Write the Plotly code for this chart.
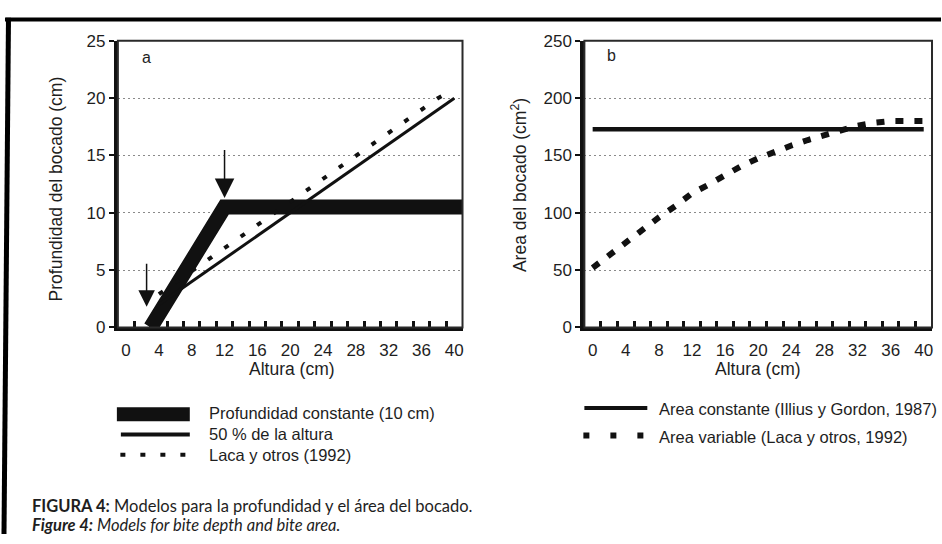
import plotly.graph_objects as go

W, H = 942, 544

# ---- Panel a: bite depth (cm) against sward height (cm) ----
height_const = [3, 12, 41]
depth_const = [0, 10.5, 10.5]

height_half = [4, 40]
depth_half = [2, 20]

height_laca = [4, 6, 8, 10, 12, 14, 16, 18, 20, 22, 24, 26, 28, 30, 32, 34, 36, 38, 40]
depth_laca = [2.9, 3.9, 4.9, 5.9, 6.9, 7.9, 8.9, 9.9, 10.9, 12.0, 13.0, 13.9,
              14.9, 16.0, 17.0, 18.0, 19.0, 20.0, 20.8]

# ---- Panel b: bite area (cm2) against sward height (cm) ----
height_area = [0, 40]
area_const = [173, 173]

height_area_var = [0, 2, 4, 6, 8, 10, 12, 14, 16, 18, 20, 22, 24, 26, 28, 30, 32, 34, 36, 38, 40]
area_var = [52, 63, 74, 86, 96, 106, 117, 124.5, 133, 141, 147.5, 153.5, 158.7,
            163.5, 167.5, 171, 176, 178.5, 180, 180, 180]

x_ticks = [0, 4, 8, 12, 16, 20, 24, 28, 32, 36, 40]
x_bounds = [1, 3, 5, 7, 9, 11, 13, 15, 17, 19, 21, 23, 25, 27, 29, 31, 33, 35, 37, 39]
depth_ticks = [0, 5, 10, 15, 20, 25]
area_ticks = [0, 50, 100, 150, 200, 250]

INK = "#111111"
TXT = "#1e1e1e"
FONT = "Liberation Sans, Arial, sans-serif"


def fx(p):
    return p / W


def fy(p):
    return 1 - p / H


fig = go.Figure()

fig.add_trace(go.Scatter(x=height_const, y=depth_const, mode="lines",
                         line=dict(color=INK, width=15), xaxis="x", yaxis="y",
                         name="Profundidad constante (10 cm)"))
fig.add_trace(go.Scatter(x=height_half, y=depth_half, mode="lines",
                         line=dict(color=INK, width=3), xaxis="x", yaxis="y",
                         name="50 % de la altura"))
# the dotted/dashed series sit on the overlaid x axes that carry the category marks
fig.add_trace(go.Scatter(x=height_laca, y=depth_laca, mode="lines",
                         line=dict(color=INK, width=4, dash="5px,15px"), xaxis="x3", yaxis="y",
                         name="Laca y otros (1992)"))
fig.add_trace(go.Scatter(x=height_area, y=area_const, mode="lines",
                         line=dict(color=INK, width=4.5), xaxis="x2", yaxis="y2",
                         name="Area constante (Illius y Gordon, 1987)"))
fig.add_trace(go.Scatter(x=height_area_var, y=area_var, mode="lines",
                         line=dict(color=INK, width=6, dash="8px,11px"), xaxis="x4", yaxis="y2",
                         name="Area variable (Laca y otros, 1992)"))

# labelled x axes (no tick marks) ...
xcommon = dict(range=[-1, 41], tickvals=x_ticks, ticks="", showline=True, linewidth=4,
               linecolor=INK, zeroline=False, showgrid=False, ticklabelstandoff=4,
               tickfont=dict(family=FONT, size=17, color=TXT))
# ... plus overlaid axes carrying the small inside marks between categories
xmarks = dict(range=[-1, 41], tickvals=x_bounds, ticks="inside", ticklen=6, tickwidth=3,
              tickcolor=INK, showticklabels=False, showline=False, showgrid=False,
              zeroline=False, side="bottom")
ycommon = dict(ticks="outside", ticklen=5, tickwidth=2, tickcolor=INK, showline=True,
               linewidth=4, linecolor=INK, zeroline=False, showgrid=True,
               gridcolor="#8a8a8a", griddash="2px,3px", gridwidth=1,
               tickfont=dict(family=FONT, size=17, color=TXT))

fig.update_layout(
    width=W, height=H, autosize=False,
    margin=dict(l=0, r=0, t=0, b=0),
    paper_bgcolor="white", plot_bgcolor="white",
    showlegend=False,
    xaxis=dict(domain=[fx(118), fx(463)], anchor="y", **xcommon),
    yaxis=dict(domain=[fy(330), fy(33)], anchor="x", range=[0, 25], tickvals=depth_ticks, **ycommon),
    xaxis2=dict(domain=[fx(585), fx(933)], anchor="y2", **xcommon),
    yaxis2=dict(domain=[fy(330), fy(33)], anchor="x2", range=[0, 250], tickvals=area_ticks, **ycommon),
    xaxis3=dict(overlaying="x", anchor="y", **xmarks),
    xaxis4=dict(overlaying="x2", anchor="y2", **xmarks),
)

shapes = []
# thin frame on top/right of each plot area
for xr, yr in (("x domain", "y domain"), ("x2 domain", "y2 domain")):
    shapes.append(dict(type="rect", xref=xr, yref=yr, x0=0, x1=1, y0=0, y1=1,
                       line=dict(color="#2a2a2a", width=2), layer="above"))
# page border (top and left)
shapes.append(dict(type="line", xref="paper", yref="paper", x0=fx(5), x1=1, y0=fy(11), y1=fy(11),
                   line=dict(color="black", width=4)))
shapes.append(dict(type="line", xref="paper", yref="paper", x0=fx(8.5), x1=fx(4), y0=fy(9), y1=0,
                   line=dict(color="black", width=5)))

# legend keys, panel a
shapes.append(dict(type="line", xref="paper", yref="paper", x0=fx(117), x1=fx(190), y0=fy(420), y1=fy(420),
                   line=dict(color=INK, width=14)))
shapes.append(dict(type="line", xref="paper", yref="paper", x0=fx(121), x1=fx(190), y0=fy(441), y1=fy(441),
                   line=dict(color=INK, width=4)))
shapes.append(dict(type="line", xref="paper", yref="paper", x0=fx(120.5), x1=fx(190), y0=fy(462), y1=fy(462),
                   line=dict(color=INK, width=4, dash="5px,15px")))
# legend keys, panel b
shapes.append(dict(type="line", xref="paper", yref="paper", x0=fx(585), x1=fx(648), y0=fy(413.5), y1=fy(413.5),
                   line=dict(color=INK, width=4)))
shapes.append(dict(type="line", xref="paper", yref="paper", x0=fx(584), x1=fx(646), y0=fy(442), y1=fy(442),
                   line=dict(color=INK, width=6, dash="6px,21px")))
fig.update_layout(shapes=shapes)

ann = []


def label(text, x, y, size=16, xanchor="left", angle=0, family=FONT):
    ann.append(dict(text=text, xref="paper", yref="paper", x=fx(x), y=fy(y), showarrow=False,
                    xanchor=xanchor, yanchor="middle", textangle=angle,
                    font=dict(family=family, size=size, color=TXT)))


# axis titles
label("Profundidad del bocado (cm)", 56, 186, size=17.5, xanchor="center", angle=-90)
label("Area del bocado (cm<sup>2</sup>)", 519, 182, size=17.5, xanchor="center", angle=-90)
label("Altura (cm)", 292, 373, size=17.5, xanchor="center")
label("Altura (cm)", 759, 373, size=17.5, xanchor="center")
# panel letters
label("a", 147, 50, xanchor="center")
label("b", 612, 48, xanchor="center")
# legend texts
label("Profundidad constante (10 cm)", 207, 419, size=16.5)
label("50 % de la altura", 207, 440, size=16.5)
label("Laca y otros (1992)", 207, 462, size=16.5)
label("Area constante (Illius y Gordon, 1987)", 658, 414, size=16.5)
label("Area variable (Laca y otros, 1992)", 658, 443, size=16.5)
# caption
CAP = "Lato, Open Sans, sans-serif"
label("<b>FIGURA 4:</b> Modelos para la profundidad y el área del bocado.", 30, 515, size=16.5, family=CAP)
label("<b><i>Figure 4:</i></b><i> Models for bite depth and bite area.</i>", 30, 535, size=16.5, family=CAP)

# arrows marking the break points of the constant-depth model
ann.append(dict(x=12, y=11.3, ax=12, ay=15.6, xref="x", yref="y", axref="x", ayref="y",
                text="", showarrow=True, arrowhead=2, arrowsize=2.6, arrowwidth=1.5,
                arrowcolor=INK, standoff=0))
ann.append(dict(x=2.5, y=1.8, ax=2.5, ay=5.7, xref="x", yref="y", axref="x", ayref="y",
                text="", showarrow=True, arrowhead=2, arrowsize=2.2, arrowwidth=1.5,
                arrowcolor=INK, standoff=0))

fig.update_layout(annotations=ann)

fig.write_html("out.html")
